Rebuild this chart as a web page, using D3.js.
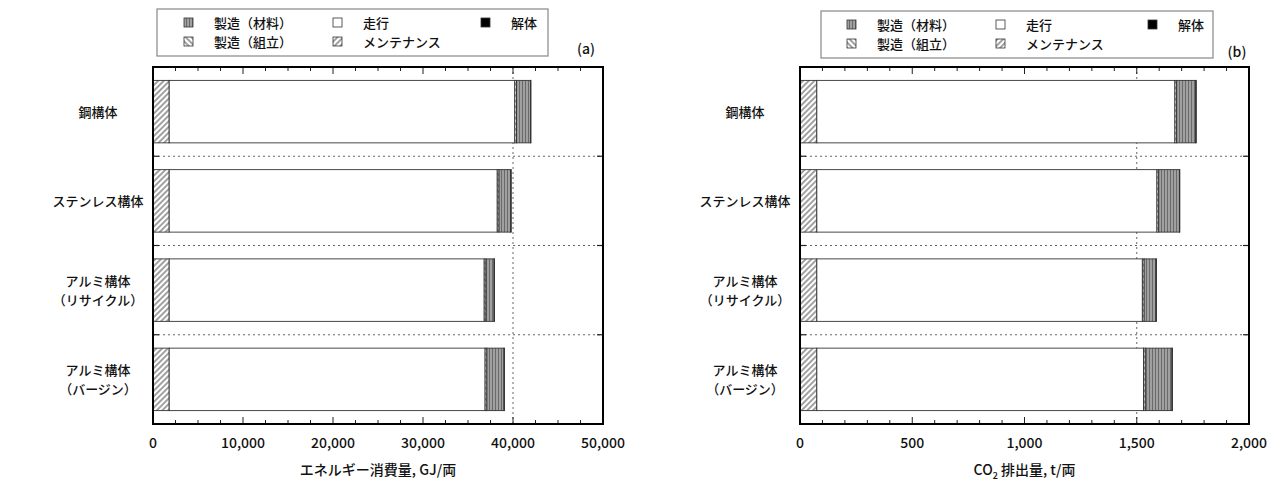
<!DOCTYPE html>
<html>
<head>
<meta charset="utf-8">
<script src="https://cdn.jsdelivr.net/npm/d3@7"></script>
<style>
  body { margin: 0; background: #fff; }
  text { font-family: "Noto Sans CJK JP", "DejaVu Sans", sans-serif; fill: #111; font-weight: 500; }
</style>
</head>
<body>
<svg id="chart" width="1286" height="484"></svg>
<script>
// categories (two-line labels are split)
var categories = [["鋼構体"], ["ステンレス構体"], ["アルミ構体", "（リサイクル）"], ["アルミ構体", "（バージン）"]];
var stackKeys = ["maint", "run", "assembly", "material", "demolition"];

// (a) energy, GJ per car
var energyMaint      = [1800, 1800, 1800, 1800];
var energyRun        = [38400, 36450, 35000, 35100];
var energyAssembly   = [200, 200, 200, 200];
var energyMaterial   = [1550, 1300, 900, 1900];
var energyDemolition = [50, 50, 50, 50];
var energyTicks      = [0, 10000, 20000, 30000, 40000, 50000];
var energyGrid       = [40000];

// (b) CO2, t per car
var co2Maint      = [75, 75, 75, 75];
var co2Run        = [1595, 1515, 1450, 1455];
var co2Assembly   = [8, 8, 8, 8];
var co2Material   = [85, 92, 53, 119];
var co2Demolition = [2, 2, 2, 2];
var co2Ticks      = [0, 500, 1000, 1500, 2000];
var co2Grid       = [1500];

var legendRows = [
  [{key: "material", label: "製造（材料）"}, {key: "run", label: "走行"}, {key: "demolition", label: "解体"}],
  [{key: "assembly", label: "製造（組立）"}, {key: "maint", label: "メンテナンス"}]
];

var svg = d3.select("#chart");
var defs = svg.append("defs");

// hatch patterns
function hatch(id, angle) {
  var p = defs.append("pattern").attr("id", id)
    .attr("patternUnits", "userSpaceOnUse")
    .attr("width", 4).attr("height", 4)
    .attr("patternTransform", "rotate(" + angle + ")");
  p.append("rect").attr("width", 4).attr("height", 4).attr("fill", "#fff");
  p.append("line").attr("x1", 1).attr("x2", 1).attr("y1", 0).attr("y2", 4)
    .attr("stroke", "#444").attr("stroke-width", 1);
}
hatch("hMaint", 45);
hatch("hAssembly", -45);
var pm = defs.append("pattern").attr("id", "hMaterial")
  .attr("patternUnits", "userSpaceOnUse").attr("width", 3).attr("height", 3);
pm.append("rect").attr("width", 3).attr("height", 3).attr("fill", "#a0a0a0");
pm.append("line").attr("x1", 0.5).attr("x2", 0.5).attr("y1", 0).attr("y2", 3)
  .attr("stroke", "#6a6a6a").attr("stroke-width", 1);

var fills = {
  maint: "url(#hMaint)",
  run: "#fff",
  assembly: "url(#hAssembly)",
  material: "url(#hMaterial)",
  demolition: "#000"
};

function makeRows(m, r, a, mat, d) {
  return categories.map(function(c, i) {
    return {cat: i, maint: m[i], run: r[i], assembly: a[i], material: mat[i], demolition: d[i]};
  });
}

function drawPanel(o) {
  var g = svg.append("g");
  var x = d3.scaleLinear().domain([0, o.max]).range([o.left, o.right]);
  var y = d3.scaleBand().domain(d3.range(categories.length)).range([o.top, o.bottom]).paddingInner(0.3).paddingOuter(0.15);

  // horizontal dotted grid between categories
  var bounds = d3.range(1, categories.length).map(function(i) { return o.top + i * (o.bottom - o.top) / categories.length; });
  g.selectAll(".hgrid").data(bounds).enter().append("line")
    .attr("x1", o.left).attr("x2", o.right).attr("y1", function(d) { return d; }).attr("y2", function(d) { return d; })
    .attr("stroke", "#666").attr("stroke-width", 1).attr("stroke-dasharray", "2,3");
  g.selectAll(".hgl").data(bounds).enter().append("line")
    .attr("x1", o.left).attr("x2", o.left + 6).attr("y1", function(d) { return d; }).attr("y2", function(d) { return d; })
    .attr("stroke", "#222").attr("stroke-width", 1.2);
  g.selectAll(".hgr").data(bounds).enter().append("line")
    .attr("x1", o.right - 6).attr("x2", o.right).attr("y1", function(d) { return d; }).attr("y2", function(d) { return d; })
    .attr("stroke", "#222").attr("stroke-width", 1.2);

  // vertical dotted grid
  g.selectAll(".vgrid").data(o.grid).enter().append("line")
    .attr("x1", x).attr("x2", x).attr("y1", o.top).attr("y2", o.bottom)
    .attr("stroke", "#666").attr("stroke-width", 1).attr("stroke-dasharray", "2,3");

  // stacked bars
  var series = d3.stack().keys(stackKeys)(o.rows);
  g.selectAll(".series").data(series).enter().append("g")
    .attr("fill", function(d) { return fills[d.key]; })
    .selectAll("rect").data(function(d) { return d; }).enter().append("rect")
    .attr("x", function(d) { return x(d[0]); })
    .attr("width", function(d) { return x(d[1]) - x(d[0]); })
    .attr("y", function(d) { return y(d.data.cat); })
    .attr("height", y.bandwidth())
    .attr("stroke", "#333").attr("stroke-width", 0.9);

  // frame ticks (major + minor), inward, top and bottom
  var minor = d3.range(0, o.max + 1e-9, o.minorStep);
  [o.top, o.bottom].forEach(function(yy, k) {
    var dir = k === 0 ? 1 : -1;
    g.selectAll(null).data(minor).enter().append("line")
      .attr("x1", x).attr("x2", x)
      .attr("y1", yy)
      .attr("y2", function(d) { return yy + dir * (o.ticks.indexOf(d) >= 0 ? 7 : 4); })
      .attr("stroke", "#222").attr("stroke-width", 1);
  });

  // frame
  g.append("rect").attr("x", o.left).attr("y", o.top)
    .attr("width", o.right - o.left).attr("height", o.bottom - o.top)
    .attr("fill", "none").attr("stroke", "#000").attr("stroke-width", 2);

  // tick labels
  g.selectAll(".tl").data(o.ticks).enter().append("text")
    .attr("x", x).attr("y", o.bottom + 24)
    .attr("text-anchor", "middle").attr("font-size", 14)
    .text(d3.format(","));

  // axis title
  var t = g.append("text").attr("x", (o.left + o.right) / 2).attr("y", o.bottom + 51)
    .attr("text-anchor", "middle").attr("font-size", 14);
  o.title.forEach(function(s) {
    var ts = t.append("tspan").text(s.t);
    if (s.sub) ts.attr("font-size", 9).attr("dy", 4);
    if (s.after) ts.attr("dy", -4);
  });

  // category labels
  categories.forEach(function(lines, i) {
    var cy = y(i) + y.bandwidth() / 2;
    var lt = g.append("text").attr("x", o.left - 55).attr("text-anchor", "middle").attr("font-size", 13);
    lines.forEach(function(l, j) {
      lt.append("tspan").attr("x", o.left - 55)
        .attr("y", cy + 5 + (j - (lines.length - 1) / 2) * 19)
        .text(l);
    });
  });

  // legend
  var L = o.legend;
  g.append("rect").attr("x", L.x).attr("y", L.y).attr("width", L.w).attr("height", L.h)
    .attr("fill", "#fff").attr("stroke", "#888").attr("stroke-width", 1.2);
  legendRows.forEach(function(row, r) {
    row.forEach(function(item, c) {
      var yy = L.y + 14 + r * 19;
      g.append("rect").attr("x", L.cols[c]).attr("y", yy - 5).attr("width", 9).attr("height", 9)
        .attr("fill", fills[item.key]).attr("stroke", "#333").attr("stroke-width", 0.8);
      g.append("text").attr("x", L.cols[c] + L.gap).attr("y", yy + 5)
        .attr("font-size", 13).text(item.label);
    });
  });
  g.append("text").attr("x", L.tagX).attr("y", L.tagY).attr("font-size", 14).attr("text-anchor", "middle").text(o.tag);
}

drawPanel({
  left: 153, right: 603, top: 67, bottom: 424,
  max: 50000, minorStep: 2500, ticks: energyTicks, grid: energyGrid,
  rows: makeRows(energyMaint, energyRun, energyAssembly, energyMaterial, energyDemolition),
  title: [{t: "エネルギー消費量, GJ/両"}],
  tag: "(a)",
  legend: {x: 157, y: 9, w: 391, h: 47, cols: [184, 333, 481], gap: 30, tagX: 586, tagY: 54}
});

drawPanel({
  left: 800, right: 1249, top: 67, bottom: 424,
  max: 2000, minorStep: 100, ticks: co2Ticks, grid: co2Grid,
  rows: makeRows(co2Maint, co2Run, co2Assembly, co2Material, co2Demolition),
  title: [{t: "CO"}, {t: "2", sub: true}, {t: " 排出量, t/両", after: true}],
  tag: "(b)",
  legend: {x: 821, y: 11, w: 392, h: 47, cols: [847, 996, 1148], gap: 30, tagX: 1237, tagY: 57}
});
</script>
</body>
</html>
